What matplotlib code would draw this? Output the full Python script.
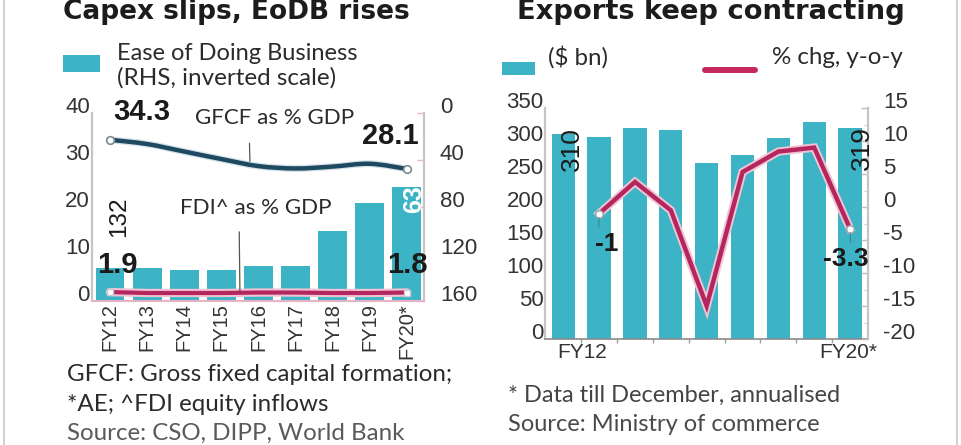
import numpy as np
import matplotlib
matplotlib.use('Agg')
import matplotlib.pyplot as plt
from matplotlib.path import Path
from matplotlib.patches import PathPatch, Rectangle
from matplotlib.lines import Line2D
import matplotlib.patheffects as pe

# ---------------- data ----------------
years = ['FY12', 'FY13', 'FY14', 'FY15', 'FY16', 'FY17', 'FY18', 'FY19', 'FY20*']
eodb_rank = [132, 132, 134, 134, 130, 130, 100, 77, 63]
gfcf_pct = [34.3, 33.4, 31.8, 30.2, 28.7, 28.2, 28.6, 29.2, 28.1]
fdi_pct = [1.9, 1.7, 1.7, 1.7, 1.8, 1.8, 1.7, 1.7, 1.8]

exports_bn = [310, 306, 319, 317, 266, 279, 304, 329, 319]
exports_chg = [np.nan, -1, 3.8, -0.5, -15, 5.3, 8.4, 9.0, -3.3]

left_ticks = [0, 10, 20, 30, 40]
rank_ticks = [0, 40, 80, 120, 160]
exp_ticks = [0, 50, 100, 150, 200, 250, 300, 350]
chg_ticks = [-20, -15, -10, -5, 0, 5, 10, 15]

# ---------------- style ----------------
W, H, DPI = 962, 445, 100
TEAL = '#3cb4c5'
NAVY = '#1e4a61'
CRIMSON = '#b3265e'
HALO = '#f2c3d4'
SPINE = '#c6c6c6'
TXTC = '#2b2b2b'
NUMF = ['Liberation Sans', 'DejaVu Sans']
TXTF = ['Lato', 'DejaVu Sans']
plt.rcParams['font.family'] = NUMF

fig = plt.figure(figsize=(W / DPI, H / DPI), dpi=DPI)
fig.patch.set_facecolor('white')
renderer = fig.canvas.get_renderer()


def fx(x):
    return x / W


def fy(y):
    return 1 - y / H


def axes_px(l, t, r, b):
    return fig.add_axes([fx(l), fy(b), (r - l) / W, (b - t) / H])


def fit(t, width_px):
    w = t.get_window_extent(renderer).width
    t.set_fontsize(t.get_fontsize() * width_px / w)
    return t


def ftext(x, y, s, width=None, **kw):
    t = fig.text(fx(x), fy(y), s, **kw)
    if width:
        fit(t, width)
    return t


def smooth_path(xs, ys):
    pts = list(zip(xs, ys))
    n = len(pts)
    verts = [pts[0]]
    codes = [Path.MOVETO]
    for i in range(n - 1):
        p0 = pts[i - 1] if i > 0 else pts[i]
        p1, p2 = pts[i], pts[i + 1]
        p3 = pts[i + 2] if i + 2 < n else pts[i + 1]
        c1 = (p1[0] + (p2[0] - p0[0]) / 6, p1[1] + (p2[1] - p0[1]) / 6)
        c2 = (p2[0] - (p3[0] - p1[0]) / 6, p2[1] - (p3[1] - p1[1]) / 6)
        verts += [c1, c2, p2]
        codes += [Path.CURVE4] * 3
    return Path(verts, codes)


def baseline_labels(ax):
    for lab in ax.get_yticklabels():
        lab.set_verticalalignment('baseline')


x = np.arange(len(years))

# ================= LEFT PANEL =================
axL = axes_px(92, 113, 424, 301)
axLr = axL.twinx()
axL.set_zorder(axLr.get_zorder() + 1)
axL.patch.set_visible(False)

axLr.bar(x, [r - 160 for r in eodb_rank], bottom=160, width=0.78, color=TEAL, zorder=1)
axLr.set_ylim(160, 0)
axL.set_ylim(0, 40)
axL.set_xlim(-0.485, 8.46)

# GFCF smooth line
gpath = smooth_path(x, gfcf_pct)
axL.add_patch(PathPatch(gpath, fill=False, edgecolor=NAVY, lw=3.2, capstyle='round',
                        joinstyle='round', zorder=3,
                        path_effects=[pe.Stroke(linewidth=5, foreground='#d7e2e8'), pe.Normal()]))
axL.plot([x[0], x[-1]], [gfcf_pct[0], gfcf_pct[-1]], 'o', ms=5.5, mfc='white', mec='#7d8a90',
         mew=1.2, zorder=5)
# FDI line
axL.plot(x, fdi_pct, color=CRIMSON, lw=3, solid_capstyle='round', zorder=3,
         path_effects=[pe.Stroke(linewidth=6, foreground=HALO), pe.Normal()])
axL.plot([x[0], x[-1]], [fdi_pct[0], fdi_pct[-1]], 's', ms=4.5, mfc='white', mec='#c9c9d6',
         mew=1, zorder=5)

# ticks
axL.set_yticks(left_ticks, [str(v) for v in left_ticks])
axL.tick_params(axis='y', length=0, pad=1.5, labelsize=16, labelcolor='#333333')
baseline_labels(axL)
axLr.set_yticks(rank_ticks, [str(v) for v in rank_ticks])
axLr.tick_params(axis='y', direction='in', length=5, width=1, color='#e4b9c8', pad=11.5,
                 labelsize=16, labelcolor='#333333')
baseline_labels(axLr)
axL.set_xticks(x, years, rotation=90)
axL.tick_params(axis='x', length=0, pad=1.5, labelsize=14.5, labelcolor='#333333')

for a in (axL, axLr):
    a.spines['top'].set_visible(False)
axL.spines['right'].set_visible(False)
axLr.spines['left'].set_visible(False)
axLr.spines['bottom'].set_visible(False)
axL.spines['left'].set_color(SPINE)
axL.spines['left'].set_linewidth(1.6)
axLr.spines['right'].set_color(SPINE)
axLr.spines['right'].set_linewidth(1.6)
axL.spines['bottom'].set_color('#e6b3c6')
axL.spines['bottom'].set_linewidth(1.5)

# value labels
boldL = dict(fontfamily=NUMF, fontweight='bold', fontsize=21, color='#1a1a1a',
             ha='center', va='center', textcoords='offset pixels', zorder=6)
axL.annotate(f'{gfcf_pct[0]}', (x[0], gfcf_pct[0]), xytext=(32, 28), **boldL)
axL.annotate(f'{gfcf_pct[-1]}', (x[-1], gfcf_pct[-1]), xytext=(-17, 33), **boldL)
axL.annotate(f'{fdi_pct[0]}', (x[0], fdi_pct[0]), xytext=(7, 27), **boldL)
axL.annotate(f'{fdi_pct[-1]}', (x[-1], fdi_pct[-1]), xytext=(0, 28), **boldL)
axLr.annotate(f'{eodb_rank[0]}', (x[0], eodb_rank[0]), xytext=(9, 51), rotation=90,
              textcoords='offset pixels', ha='center', va='center', fontsize=17.5,
              color='#1a1a1a')
axL.annotate(f'{eodb_rank[-1]}', (x[-1], eodb_rank[-1]), xycoords=axLr.transData,
             xytext=(7, -12), rotation=90, textcoords='offset pixels', ha='center',
             va='center', fontsize=18, fontweight='bold', color='white', zorder=6)

# series captions with leader lines
t1 = axL.annotate('GFCF as % GDP', xy=(3.77, 29.7), xytext=(195, H - 118),
                  textcoords='figure pixels', ha='left', va='center', fontfamily=TXTF,
                  fontsize=15, color=TXTC,
                  arrowprops=dict(arrowstyle='-', color='#555555', lw=0.9,
                                  relpos=(0.34, 0), shrinkA=9, shrinkB=0))
fit(t1, 160)
t2 = axL.annotate('FDI^ as % GDP', xy=(3.5, 2.0), xytext=(180, H - 208),
                  textcoords='figure pixels', ha='left', va='center', fontfamily=TXTF,
                  fontsize=15, color=TXTC,
                  arrowprops=dict(arrowstyle='-', color='#555555', lw=0.9,
                                  relpos=(0.39, 0), shrinkA=8, shrinkB=0))
fit(t2, 152)

# legend (left)
fig.add_artist(Rectangle((fx(63), fy(72)), 37 / W, 17 / H, transform=fig.transFigure,
                         color=TEAL, lw=0))
ftext(117, 53, 'Ease of Doing Business', 241, fontfamily=TXTF, fontsize=15,
      color=TXTC, ha='left', va='center')
ftext(117, 78, '(RHS, inverted scale)', 220, fontfamily=TXTF, fontsize=15,
      color=TXTC, ha='left', va='center')

# ================= RIGHT PANEL =================
axR = axes_px(545, 108, 868, 339)
axR.bar(x, exports_bn, width=0.65, color=TEAL, zorder=1)
axR.set_xlim(-0.51, 8.5)
axR.set_ylim(0, 350)
axRr = axR.twinx()
axRr.set_ylim(-20, 15)
axRr.plot(x, exports_chg, color=CRIMSON, lw=3.2, solid_joinstyle='miter', zorder=3,
          path_effects=[pe.Stroke(linewidth=6, foreground=HALO), pe.Normal()])
axRr.plot([x[1], x[-1]], [exports_chg[1], exports_chg[-1]], 'o', ms=5.5, mfc='white',
          mec='#9aa6ab', mew=1.1, zorder=5)

axR.set_yticks(exp_ticks, [str(v) for v in exp_ticks])
axR.tick_params(axis='y', length=0, pad=1, labelsize=16, labelcolor='#333333')
baseline_labels(axR)
axRr.set_yticks(chg_ticks, [str(v) for v in chg_ticks])
axRr.set_yticks(np.arange(-17.5, 15, 5), minor=True)
axRr.tick_params(axis='y', which='major', direction='in', length=5, width=1, color='#bdbdbd',
                 pad=11, labelsize=16, labelcolor='#333333')
axRr.tick_params(axis='y', which='minor', direction='in', length=3, width=0.8, color='#d0d0d0')
baseline_labels(axRr)
axR.set_xticks(x[:-1] + 0.5, [''] * (len(x) - 1))
axR.tick_params(axis='x', length=3, width=1, color='#a0a0a0')

for a in (axR, axRr):
    a.spines['top'].set_visible(False)
axR.spines['right'].set_visible(False)
axRr.spines['left'].set_visible(False)
axRr.spines['bottom'].set_visible(False)
axR.spines['left'].set_color(SPINE)
axR.spines['left'].set_linewidth(1.6)
axRr.spines['right'].set_color(SPINE)
axRr.spines['right'].set_linewidth(1.6)
axR.spines['bottom'].set_color('#8a8a8a')
axR.spines['bottom'].set_linewidth(1.2)

axR.annotate(years[0], (x[0], 0), xytext=(19, -14), textcoords='offset pixels',
             ha='center', va='center', fontsize=15, color='#333333')
axR.annotate(years[-1], (x[-1], 0), xytext=(-2, -14), textcoords='offset pixels',
             ha='center', va='center', fontsize=15, color='#333333')

axRr.annotate(f'{exports_bn[0]}', (x[0], exports_bn[0]), xycoords=axR.transData,
              xytext=(9, -15), rotation=90, textcoords='offset pixels', ha='center',
              va='center', fontsize=19, color='#1a1a1a', zorder=6)
axRr.annotate(f'{exports_bn[-1]}', (x[-1], exports_bn[-1]), xycoords=axR.transData,
              xytext=(12, -20), rotation=90, textcoords='offset pixels', ha='center',
              va='center', fontsize=19, color='#1a1a1a', zorder=6)

boldR = dict(fontfamily=NUMF, fontweight='bold', fontsize=19, color='#1a1a1a',
             ha='center', va='center', textcoords='offset pixels', zorder=6)
axRr.annotate(f'{exports_chg[1]:g}', (x[1], exports_chg[1]), xytext=(8, -30),
              arrowprops=dict(arrowstyle='-', color='#3b8c99', lw=0.9, relpos=(0.13, 1),
                              shrinkA=1, shrinkB=3), **boldR)
axRr.annotate(f'{exports_chg[-1]:g}', (x[-1], exports_chg[-1]), xytext=(-4, -30),
              arrowprops=dict(arrowstyle='-', color='#3b8c99', lw=0.9, relpos=(0.6, 1),
                              shrinkA=1, shrinkB=3), **boldR)

# legend (right)
fig.add_artist(Rectangle((fx(502), fy(75)), 33 / W, 13 / H, transform=fig.transFigure,
                         color=TEAL, lw=0))
ftext(548, 57, '($ bn)', 60, fontfamily=TXTF, fontsize=15, color=TXTC, ha='left', va='center')
fig.add_artist(Line2D([fx(705), fx(755)], [fy(70), fy(70)], transform=fig.transFigure,
                      color='#c4285d', lw=4.3, solid_capstyle='round'))
ftext(772, 57, '% chg, y-o-y', 131, fontfamily=TXTF, fontsize=15, color=TXTC,
      ha='left', va='center')

# ================= titles & notes =================
ftext(63, 19, 'Capex slips, EoDB rises', 347, fontfamily=['DejaVu Sans'], fontweight='bold',
      fontsize=20, color='#1c1c1c', ha='left', va='baseline')
ftext(517, 19, 'Exports keep contracting', 388, fontfamily=['DejaVu Sans'], fontweight='bold',
      fontsize=20, color='#1c1c1c', ha='left', va='baseline')

n1 = ftext(67, 381, 'GFCF: Gross fixed capital formation;', 385, fontfamily=TXTF,
           fontsize=15, color=TXTC, ha='left', va='baseline')
fs = n1.get_fontsize()
ftext(67, 411, '*AE; ^FDI equity inflows', fontfamily=TXTF, fontsize=fs, color=TXTC,
      ha='left', va='baseline')
ftext(67, 440, 'Source: CSO, DIPP, World Bank', fontfamily=TXTF, fontsize=fs, color='#5a5a5a',
      ha='left', va='baseline')
n2 = ftext(508, 402, '* Data till December, annualised', 335, fontfamily=TXTF, fontsize=15,
           color='#444444', ha='left', va='baseline')
ftext(508, 431, 'Source: Ministry of commerce', fontfamily=TXTF, fontsize=n2.get_fontsize(),
      color='#4a4a4a', ha='left', va='baseline')

# page edges
for ex in (4, 957):
    fig.add_artist(Line2D([fx(ex), fx(ex)], [0, 1], transform=fig.transFigure,
                          color='#d2d2d2', lw=1.5))

fig.savefig('out.png', dpi=DPI)
